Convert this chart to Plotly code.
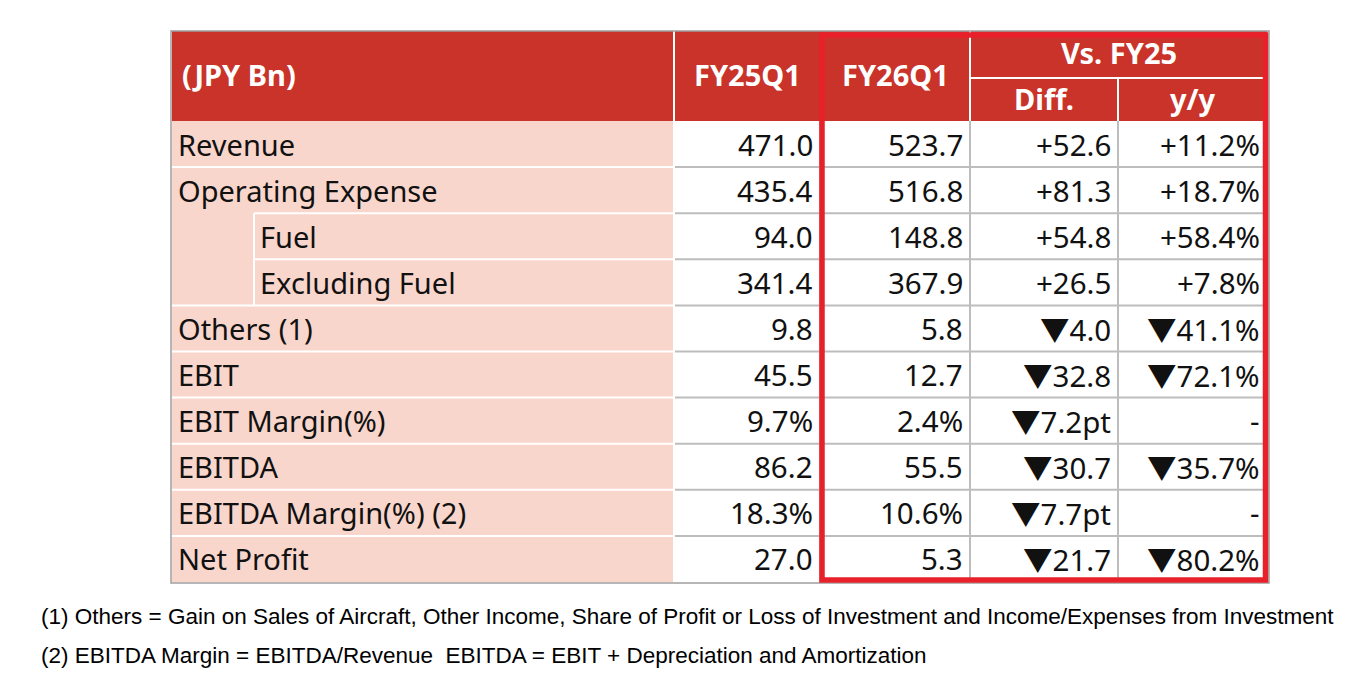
import plotly.graph_objects as go

# table content
row_labels = ["Revenue", "Operating Expense", "Fuel", "Excluding Fuel", "Others (1)", "EBIT",
              "EBIT Margin(%)", "EBITDA", "EBITDA Margin(%) (2)", "Net Profit"]
indented = [False, False, True, True, False, False, False, False, False, False]
fy25q1 = ["471.0", "435.4", "94.0", "341.4", "9.8", "45.5", "9.7%", "86.2", "18.3%", "27.0"]
fy26q1 = ["523.7", "516.8", "148.8", "367.9", "5.8", "12.7", "2.4%", "55.5", "10.6%", "5.3"]
diff = ["+52.6", "+81.3", "+54.8", "+26.5", "▼4.0", "▼32.8", "▼7.2pt", "▼30.7", "▼7.7pt", "▼21.7"]
yoy = ["+11.2%", "+18.7%", "+58.4%", "+7.8%", "▼41.1%", "▼72.1%", "-", "▼35.7%", "-", "▼80.2%"]
header_unit = "(JPY Bn)"
col_headers = ["FY25Q1", "FY26Q1"]
group_header = "Vs. FY25"
sub_headers = ["Diff.", "y/y"]
footnotes = [
    "(1) Others = Gain on Sales of Aircraft, Other Income, Share of Profit or Loss of Investment and Income/Expenses from Investment",
    "(2) EBITDA Margin = EBITDA/Revenue  EBITDA = EBIT + Depreciation and Amortization",
]

# layout (axis units = page pixels; page body has an 8px margin)
W, H = 1366, 676
PAD = 8
COLS = [172, 674, 820, 970, 1118, 1267]
INDENT_X = 254
HDR_TOP, HDR_MID, HDR_BOT = 31, 78, 121
ROW_H = 46.1
RED = "#C9332A"
PINK = "#F9D6CC"
GRID = "#BDBDBD"
BOX = "#E8202A"
TFONT = "Noto Sans"

fig = go.Figure()
shapes, annos = [], []


def rect(x0, y0, x1, y1, fill, line=None, lw=0):
    shapes.append(dict(type="rect", xref="x", yref="y", x0=x0, y0=y0, x1=x1, y1=y1,
                       fillcolor=fill, line=dict(color=line or fill, width=lw), layer="below"))


def hline(x0, x1, y, color, w=2):
    shapes.append(dict(type="line", xref="x", yref="y", x0=x0, x1=x1, y0=y, y1=y,
                       line=dict(color=color, width=w)))


def vline(x, y0, y1, color, w=2):
    shapes.append(dict(type="line", xref="x", yref="y", x0=x, x1=x, y0=y0, y1=y1,
                       line=dict(color=color, width=w)))


def text(x, y, s, anchor, size=29, bold=False, color="#111111", family=TFONT):
    s = s.replace("▼", '<span style="font-family:Noto Sans CJK JP">▼</span>')
    annos.append(dict(x=x, y=y, xref="x", yref="y", text=f"<b>{s}</b>" if bold else s,
                      showarrow=False, xanchor=anchor, yanchor="middle",
                      font=dict(family=family, size=size, color=color)))


n = len(row_labels)
bottom = HDR_BOT + ROW_H * n

# backgrounds
rect(COLS[0], HDR_TOP, COLS[-1], HDR_BOT, RED)
rect(COLS[0], HDR_BOT, COLS[1], bottom, PINK)
rect(COLS[1], HDR_BOT, COLS[-1], bottom, "white")

# header lines
vline(COLS[1], HDR_TOP, HDR_BOT, "white")
hline(COLS[3], COLS[-1], HDR_MID, "white")
vline(COLS[4], HDR_MID, HDR_BOT, "white")
vline(COLS[3], HDR_TOP, HDR_BOT, "white")

# body grid
for i in range(n + 1):
    y = HDR_BOT + ROW_H * i
    if 0 < i < n:
        x_start = INDENT_X if indented[i] else COLS[0]
        hline(x_start, COLS[1], y, "white")
        hline(COLS[1], COLS[-1], y, GRID)
for c in COLS[2:-1]:
    vline(c, HDR_BOT, bottom, GRID)
vline(COLS[1], HDR_BOT, bottom, "white")
ind_rows = [i for i, f in enumerate(indented) if f]
vline(INDENT_X, HDR_BOT + ROW_H * ind_rows[0], HDR_BOT + ROW_H * (ind_rows[-1] + 1), "white")

# outer border
shapes.append(dict(type="rect", xref="x", yref="y", x0=COLS[0] - 1, y0=HDR_TOP, x1=COLS[-1] + 2,
                   y1=bottom + 1, line=dict(color="#9E9E9E", width=1.5), fillcolor="rgba(0,0,0,0)"))

# red highlight box around FY26Q1 and comparison
shapes.append(dict(type="rect", xref="x", yref="y", x0=COLS[2] + 2, y0=HDR_TOP + 4, x1=COLS[-1] - 1.5,
                   y1=bottom - 2, line=dict(color=BOX, width=5.5), fillcolor="rgba(0,0,0,0)"))

# header text
text(COLS[0] + 8, 74, header_unit, "left", size=29, bold=True, color="white")
for j, h in enumerate(col_headers):
    text((COLS[1 + j] + COLS[2 + j]) / 2, 74, h, "center", size=29, bold=True, color="white")
text((COLS[3] + COLS[-1]) / 2, 52, group_header, "center", size=29, bold=True, color="white")
for j, h in enumerate(sub_headers):
    text((COLS[3 + j] + COLS[4 + j]) / 2, 98, h, "center", size=29, bold=True, color="white")

# body text
for i in range(n):
    yc = HDR_BOT + ROW_H * (i + 0.5)
    text((INDENT_X + 4) if indented[i] else (COLS[0] + 4), yc, row_labels[i], "left")
    for j, col in enumerate([fy25q1, fy26q1, diff, yoy]):
        text(COLS[j + 2] - 5, yc, col[i], "right", size=29.5)

# footnotes
for k, f in enumerate(footnotes):
    text(39, 616 + 39 * k, f, "left", size=22.5, color="black", family="Liberation Sans")

fig.add_trace(go.Scatter(x=[PAD, W - PAD], y=[PAD, H - PAD], mode="markers", marker=dict(opacity=0),
                         hoverinfo="skip", showlegend=False))
fig.update_layout(
    width=W - 2 * PAD, height=H - 2 * PAD, margin=dict(l=0, r=0, t=0, b=0),
    plot_bgcolor="white", paper_bgcolor="white",
    xaxis=dict(range=[PAD, W - PAD], visible=False, fixedrange=True),
    yaxis=dict(range=[H - PAD, PAD], visible=False, fixedrange=True),
    shapes=shapes, annotations=annos, showlegend=False,
)
fig.write_html("out.html")
